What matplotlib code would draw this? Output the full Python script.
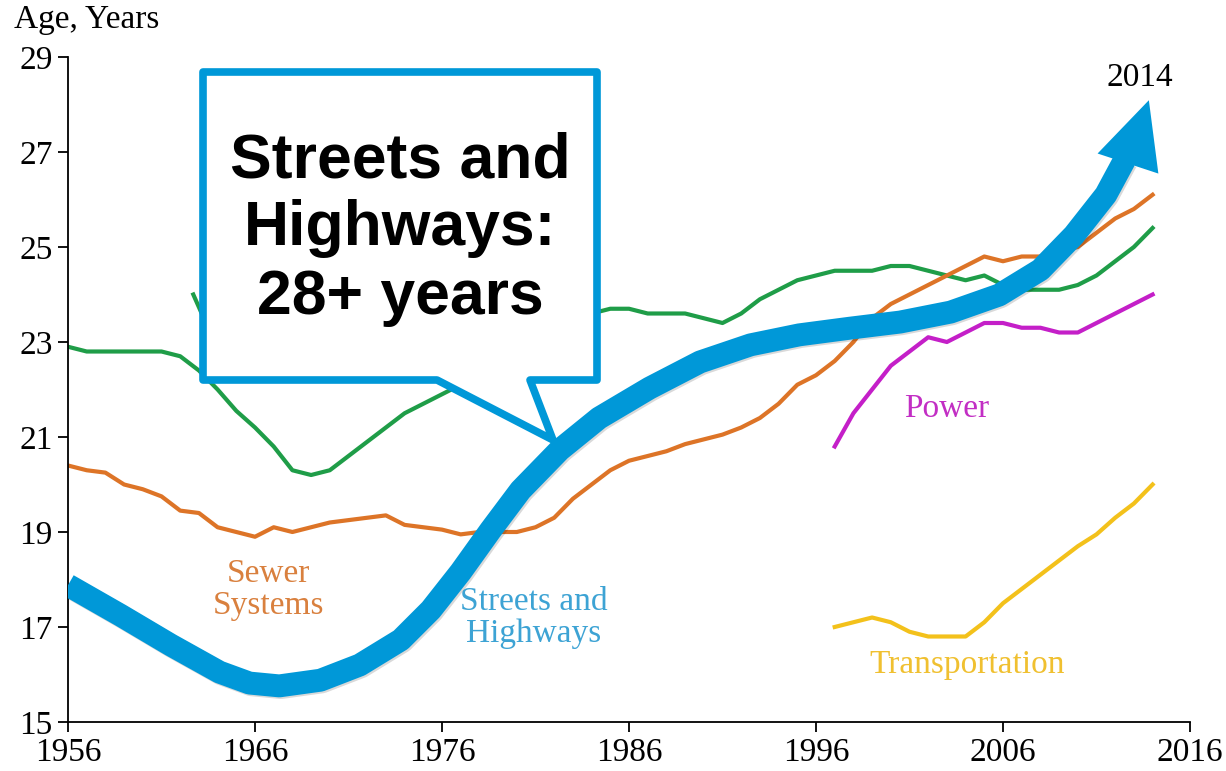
import matplotlib
matplotlib.use('Agg')
import matplotlib.pyplot as plt
import matplotlib.patheffects as pe
from matplotlib.patches import Polygon

plt.rcParams['font.family'] = ['Liberation Serif', 'DejaVu Serif']

# average age by infrastructure type (years)
years_water = list(range(1956, 2015))
age_water = [22.9, 22.8, 22.8, 22.8, 22.8, 22.8, 22.7, 22.4, 22.0, 21.55,
             21.2, 20.8, 20.3, 20.2, 20.3, 20.6, 20.9, 21.2, 21.5, 21.7,
             21.9, 22.1, 22.3, 22.6, 22.9, 23.2, 23.4, 23.5, 23.6, 23.7,
             23.7, 23.6, 23.6, 23.6, 23.5, 23.4, 23.6, 23.9, 24.1, 24.3,
             24.4, 24.5, 24.5, 24.5, 24.6, 24.6, 24.5, 24.4, 24.3, 24.4,
             24.2, 24.1, 24.1, 24.1, 24.2, 24.4, 24.7, 25.0, 25.4]

years_water2 = [1962.7, 1963.6]
age_water2 = [24.0, 23.2]

years_sewer = list(range(1956, 2015))
age_sewer = [20.4, 20.3, 20.25, 20.0, 19.9, 19.75, 19.45, 19.4, 19.1, 19.0,
             18.9, 19.1, 19.0, 19.1, 19.2, 19.25, 19.3, 19.35, 19.15, 19.1,
             19.05, 18.95, 19.0, 19.0, 19.0, 19.1, 19.3, 19.7, 20.0, 20.3,
             20.5, 20.6, 20.7, 20.85, 20.95, 21.05, 21.2, 21.4, 21.7, 22.1,
             22.3, 22.6, 23.0, 23.5, 23.8, 24.0, 24.2, 24.4, 24.6, 24.8,
             24.7, 24.8, 24.8, 24.9, 25.0, 25.3, 25.6, 25.8, 26.1]

years_late = list(range(1997, 2015))
age_power = [20.8, 21.5, 22.0, 22.5, 22.8, 23.1, 23.0, 23.2, 23.4, 23.4,
             23.3, 23.3, 23.2, 23.2, 23.4, 23.6, 23.8, 24.0]
age_transport = [17.0, 17.1, 17.2, 17.1, 16.9, 16.8, 16.8, 16.8, 17.1, 17.5,
                 17.8, 18.1, 18.4, 18.7, 18.95, 19.3, 19.6, 20.0]

# hand drawn streets & highways arrow
years_streets = [1956.0, 1958.8, 1961.5, 1964.1, 1965.7, 1967.3, 1969.5, 1971.6,
                 1973.8, 1975.4, 1977.0, 1978.6, 1980.2, 1982.3, 1984.4, 1987.1,
                 1989.8, 1992.5, 1995.1, 1997.8, 2000.5, 2003.2, 2005.8, 2008.0,
                 2009.8, 2011.5, 2012.5]
age_streets = [17.88, 17.25, 16.62, 16.05, 15.82, 15.76, 15.88, 16.2,
               16.73, 17.36, 18.16, 19.04, 19.88, 20.73, 21.4, 22.03,
               22.58, 22.94, 23.15, 23.29, 23.42, 23.63, 23.99, 24.52,
               25.25, 26.1, 26.83]
streets_head_from = (2012.3, 26.3)
streets_tip = (2013.8, 28.09)

xticks = [1956, 1966, 1976, 1986, 1996, 2006, 2016]
yticks = [15, 17, 19, 21, 23, 25, 27, 29]

W, H = 1226, 771
fig = plt.figure(figsize=(W / 100, H / 100), dpi=100)
ax = fig.add_axes([68 / W, 49 / H, 1122 / W, 665 / H])

green = '#1F9D48'
orange = '#DD7427'
magenta = '#C41FC8'
yellow = '#F3C11B'
blue = '#0098D8'

ax.plot(years_water, age_water, color=green, lw=3)
ax.plot(years_water2, age_water2, color=green, lw=3)
ax.plot(years_sewer, age_sewer, color=orange, lw=3)
ax.plot(years_late, age_power, color=magenta, lw=3)
ax.plot(years_late, age_transport, color=yellow, lw=3)

shadow = [pe.SimpleLineShadow(offset=(1.2, -1.2), alpha=0.15), pe.Normal()]
ax.plot(years_streets, age_streets, color=blue, lw=16.5, solid_capstyle='butt',
        solid_joinstyle='round', zorder=6, path_effects=shadow)
ax.annotate('', xy=streets_tip, xytext=streets_head_from,
            arrowprops=dict(arrowstyle='-|>,head_length=0.75,head_width=0.36',
                            mutation_scale=64, color=blue, lw=0,
                            shrinkA=0, shrinkB=0),
            zorder=7)

ax.set_xlim(1956, 2016)
ax.set_ylim(15, 29)
ax.set_xticks(xticks)
ax.set_yticks(yticks)
ax.tick_params(direction='out', length=7, width=1.3, labelsize=24, pad=4)
for s in ['top', 'right']:
    ax.spines[s].set_visible(False)
for s in ['left', 'bottom']:
    ax.spines[s].set_linewidth(1.3)

# series labels
ax.text(1966.7, 17.78, 'Sewer\nSystems', color='#D9803E', fontsize=24,
        ha='center', va='center', linespacing=1.05)
ax.text(1980.9, 17.19, 'Streets and\nHighways', color='#3DA3D4', fontsize=24,
        ha='center', va='center', linespacing=1.05, zorder=5)
ax.text(2003.0, 21.59, 'Power', color='#C22EC4', fontsize=24, ha='center', va='center')
ax.text(2004.1, 16.2, 'Transportation', color='#F0C030', fontsize=24,
        ha='center', va='center')
ax.text(2013.3, 28.56, '2014', color='black', fontsize=24, ha='center', va='center')

fig.text(14 / W, 1 - 20 / H, 'Age, Years', fontsize=24, ha='left', va='center')

# callout box
def px(x, y):
    return (x / W, 1 - y / H)

box = [px(203, 72), px(597, 72), px(597, 380), px(530, 380), px(553, 440),
       px(437, 380), px(203, 380)]
fig.patches.append(Polygon(box, closed=True, transform=fig.transFigure,
                           facecolor='white', edgecolor=blue, lw=5.5,
                           joinstyle='round', zorder=10))
fig.text(400 / W, 1 - 229 / H, 'Streets and\nHighways:\n28+ years',
         family=['Liberation Sans', 'DejaVu Sans'], fontweight='bold',
         fontsize=45, ha='center', va='center', linespacing=1.2, zorder=11)

fig.savefig('out.png', dpi=100)
